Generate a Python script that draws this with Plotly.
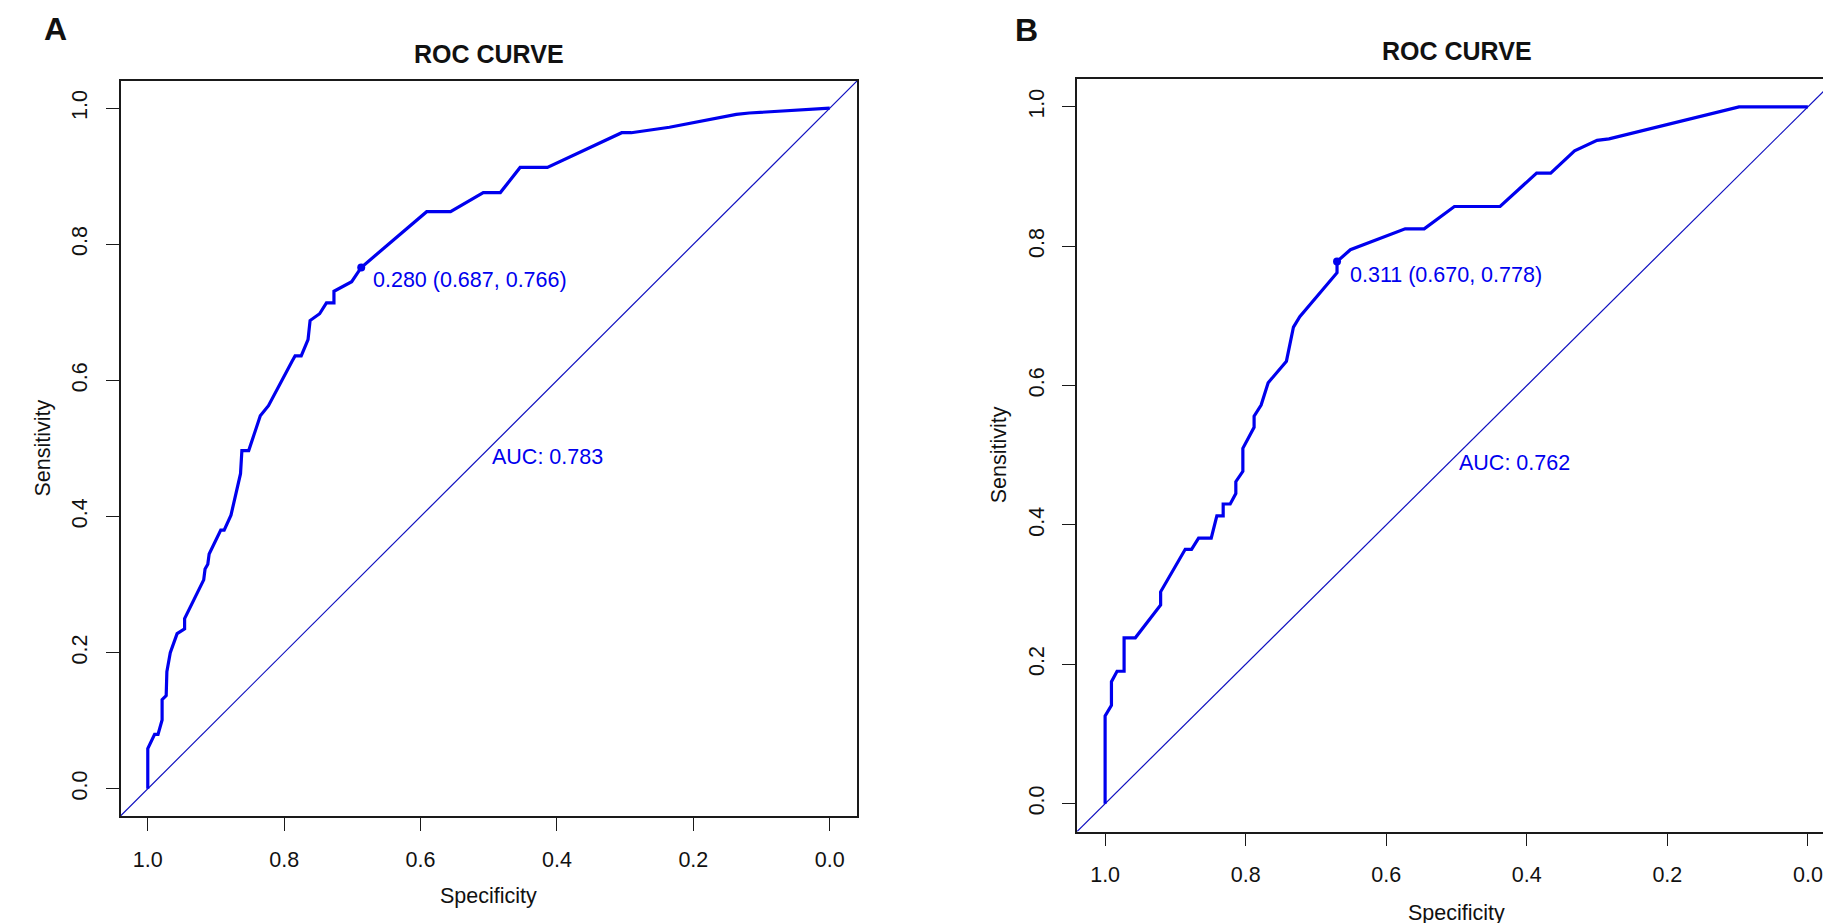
import plotly.graph_objects as go

W, H = 1831, 923
BLUE = "#0000EE"
FONT = "Liberation Sans, Arial, sans-serif"

# ---------------- data ----------------
spec_a = [1.0, 1.0, 0.990, 0.985, 0.979, 0.979, 0.973, 0.972, 0.967, 0.957, 0.946, 0.946,
          0.918, 0.916, 0.912, 0.910, 0.893, 0.888, 0.878, 0.864, 0.862, 0.852, 0.835,
          0.823, 0.788, 0.784, 0.775, 0.770, 0.765, 0.762, 0.748, 0.738, 0.727, 0.727,
          0.701, 0.687, 0.591, 0.556, 0.508, 0.483, 0.454, 0.414, 0.305, 0.291, 0.235,
          0.137, 0.118, 0.0]
sens_a = [0.0, 0.059, 0.080, 0.080, 0.101, 0.131, 0.137, 0.172, 0.200, 0.228, 0.235, 0.250,
          0.307, 0.323, 0.330, 0.345, 0.380, 0.380, 0.402, 0.463, 0.497, 0.497, 0.548,
          0.563, 0.629, 0.636, 0.636, 0.647, 0.660, 0.688, 0.698, 0.714, 0.714, 0.731,
          0.745, 0.766, 0.848, 0.848, 0.876, 0.876, 0.913, 0.913, 0.964, 0.964, 0.972,
          0.991, 0.993, 1.0]

spec_b = [1.0, 1.0, 0.991, 0.991, 0.983, 0.973, 0.973, 0.957, 0.921, 0.921, 0.886, 0.877,
          0.867, 0.849, 0.841, 0.832, 0.832, 0.822, 0.814, 0.814, 0.804, 0.804, 0.788,
          0.788, 0.778, 0.768, 0.742, 0.732, 0.723, 0.670, 0.670, 0.651, 0.573, 0.546,
          0.503, 0.438, 0.386, 0.366, 0.332, 0.300, 0.283, 0.098, 0.0]
sens_b = [0.0, 0.126, 0.141, 0.175, 0.190, 0.190, 0.238, 0.238, 0.285, 0.304, 0.365, 0.365,
          0.381, 0.381, 0.413, 0.413, 0.430, 0.430, 0.445, 0.462, 0.477, 0.510, 0.540,
          0.556, 0.572, 0.604, 0.635, 0.684, 0.699, 0.762, 0.778, 0.795, 0.825, 0.825,
          0.857, 0.857, 0.905, 0.905, 0.937, 0.952, 0.954, 1.0, 1.0]

best_a = {"thr": 0.280, "spec": 0.687, "sens": 0.766}
best_b = {"thr": 0.311, "spec": 0.670, "sens": 0.778}
auc_a, auc_b = 0.783, 0.762

tick_vals = [0.0, 0.2, 0.4, 0.6, 0.8, 1.0]
tick_text = ["0.0", "0.2", "0.4", "0.6", "0.8", "1.0"]
diag_x = [1.04, -0.04]
diag_y = [-0.04, 1.04]

panels = [
    dict(letter="A", spec=spec_a, sens=sens_a, best=best_a, auc=auc_a,
         box=(112.5, 849, 73, 808), letter_xy=(47, 21), title_y=46,
         xlab_y=888, ylab_x=35, thr_pos=(0.672, 0.748), auc_pos=(0.498, 0.488)),
    dict(letter="B", spec=spec_b, sens=sens_b, best=best_b, auc=auc_b,
         box=(1069, 1828, 71, 823.5), letter_xy=(1018, 22), title_y=43,
         xlab_y=905, ylab_x=991, thr_pos=(0.655, 0.759), auc_pos=(0.499, 0.489)),
]

fig = go.Figure()
annotations = []

for i, p in enumerate(panels, start=1):
    xa = "x" if i == 1 else f"x{i}"
    ya = "y" if i == 1 else f"y{i}"
    l, r, t, b = p["box"]
    # diagonal
    fig.add_trace(go.Scatter(x=diag_x, y=diag_y, mode="lines",
                             line=dict(color="#1010C0", width=1.2),
                             xaxis=xa, yaxis=ya, showlegend=False, hoverinfo="skip"))
    # ROC curve
    fig.add_trace(go.Scatter(x=p["spec"], y=p["sens"], mode="lines",
                             line=dict(color=BLUE, width=3.2),
                             xaxis=xa, yaxis=ya, showlegend=False))
    # best threshold point
    fig.add_trace(go.Scatter(x=[p["best"]["spec"]], y=[p["best"]["sens"]], mode="markers",
                             marker=dict(color=BLUE, size=8),
                             xaxis=xa, yaxis=ya, showlegend=False))
    thr_txt = f'{p["best"]["thr"]:.3f} ({p["best"]["spec"]:.3f}, {p["best"]["sens"]:.3f})'
    annotations.append(dict(x=p["thr_pos"][0], y=p["thr_pos"][1], xref=xa, yref=ya,
                            text=thr_txt, showarrow=False, xanchor="left", yanchor="middle",
                            font=dict(family=FONT, size=21.5, color=BLUE)))
    annotations.append(dict(x=p["auc_pos"][0], y=p["auc_pos"][1], xref=xa, yref=ya,
                            text=f'AUC: {p["auc"]:.3f}', showarrow=False,
                            xanchor="left", yanchor="middle",
                            font=dict(family=FONT, size=21.5, color=BLUE)))
    axis_common = dict(showline=True, linecolor="#1a1a1a", linewidth=1.5, mirror=True,
                       showgrid=False, zeroline=False, ticks="outside", ticklen=13,
                       tickwidth=1.3, tickcolor="#1a1a1a", tickvals=tick_vals,
                       ticktext=tick_text, ticklabelstandoff=10,
                       tickfont=dict(family=FONT, size=21.5, color="#111"))
    fig.update_layout(**{
        ("xaxis" if i == 1 else f"xaxis{i}"): dict(
            axis_common, domain=[l / W, r / W], range=[1.04, -0.04],
            anchor=ya),
        ("yaxis" if i == 1 else f"yaxis{i}"): dict(
            axis_common, domain=[1 - b / H, 1 - t / H], range=[-0.04, 1.04],
            anchor=xa, tickangle=-90),
    })
    cx = (l + r) / 2
    cy = (t + b) / 2
    annotations.append(dict(x=cx / W, y=1 - p["title_y"] / H, xref="paper", yref="paper",
                            text="<b>ROC CURVE</b>", showarrow=False,
                            xanchor="center", yanchor="middle",
                            font=dict(family=FONT, size=25, color="#111")))
    annotations.append(dict(x=p["letter_xy"][0] / W, y=1 - p["letter_xy"][1] / H,
                            xref="paper", yref="paper", text=f'<b>{p["letter"]}</b>',
                            showarrow=False, xanchor="center", yanchor="middle",
                            font=dict(family=FONT, size=32, color="#111")))
    annotations.append(dict(x=cx / W, y=1 - p["xlab_y"] / H, xref="paper", yref="paper",
                            text="Specificity", showarrow=False,
                            xanchor="center", yanchor="middle",
                            font=dict(family=FONT, size=21.5, color="#111")))
    annotations.append(dict(x=p["ylab_x"] / W, y=1 - cy / H, xref="paper", yref="paper",
                            text="Sensitivity", showarrow=False, textangle=-90,
                            xanchor="center", yanchor="middle",
                            font=dict(family=FONT, size=21.5, color="#111")))

fig.update_layout(width=W, height=H, margin=dict(l=0, r=0, t=0, b=0),
                  paper_bgcolor="white", plot_bgcolor="white",
                  annotations=annotations, showlegend=False)

fig.write_html("out.html")
